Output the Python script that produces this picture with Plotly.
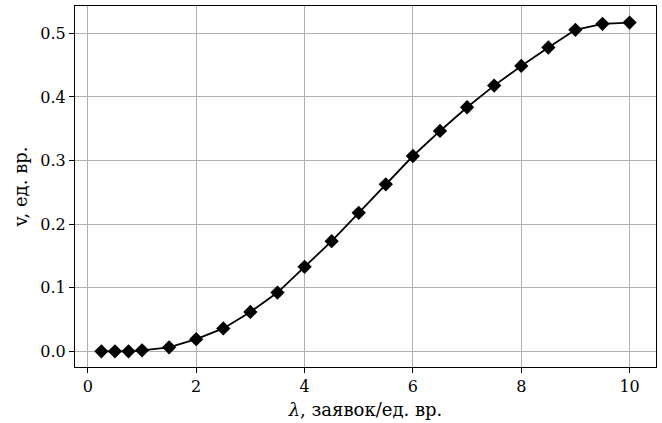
import plotly.graph_objects as go

lam = [0.25, 0.5, 0.75, 1.0, 1.5, 2.0, 2.5, 3.0, 3.5, 4.0, 4.5, 5.0, 5.5, 6.0,
       6.5, 7.0, 7.5, 8.0, 8.5, 9.0, 9.5, 10.0]
v = [0.0, 0.0, 0.0, 0.0016, 0.0063, 0.019, 0.036, 0.0619, 0.0924, 0.1328, 0.1732,
     0.2178, 0.2625, 0.3071, 0.3465, 0.3838, 0.4178, 0.4488, 0.4777, 0.5055, 0.515, 0.517]
xticks = [0, 2, 4, 6, 8, 10]
yticks = [0.0, 0.1, 0.2, 0.3, 0.4, 0.5]

font = "DejaVu Serif"

fig = go.Figure(go.Scatter(
    x=lam, y=v, mode="lines+markers",
    line=dict(color="black", width=1.8),
    marker=dict(symbol="diamond", size=11, color="black"),
))

axis_common = dict(
    showgrid=True, gridcolor="#b0b0b0", gridwidth=1,
    showline=True, linecolor="black", linewidth=1, mirror=True,
    ticks="outside", ticklen=5, tickcolor="black", tickwidth=1,
    zeroline=False,
    tickfont=dict(family=font, size=16, color="black"),
)

fig.update_xaxes(range=[-0.2375, 10.4875], tickvals=xticks,
                 ticktext=[str(t) for t in xticks],
                 title=dict(text="<i>λ</i>, заявок/ед. вр.", font=dict(family=font, size=18, color="black"), standoff=8),
                 **axis_common)
fig.update_yaxes(range=[-0.0247, 0.543], tickvals=yticks,
                 ticktext=[f"{t:.1f}" for t in yticks],
                 title=dict(text="v, ед. вр.", font=dict(family=font, size=18, color="black"), standoff=8),
                 **axis_common)

fig.update_layout(
    width=662, height=423,
    margin=dict(l=75, r=6, t=6, b=56),
    plot_bgcolor="white", paper_bgcolor="white",
    showlegend=False,
)

fig.write_html("out.html", config={"displayModeBar": False},
               post_script="document.body.style.margin='0';")
